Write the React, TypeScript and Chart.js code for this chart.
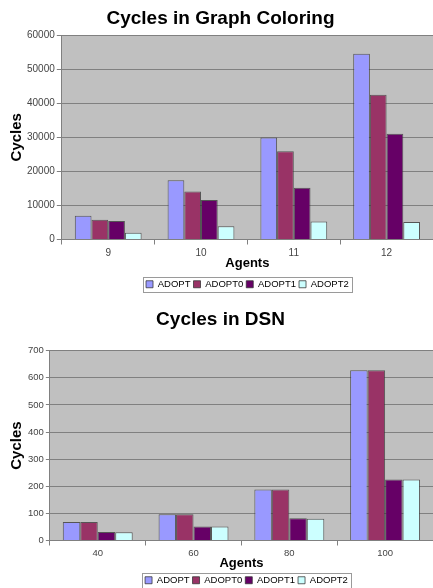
import React, { useEffect, useRef } from "react";
import { Chart, registerables } from "chart.js";
Chart.register(...registerables);

const FONT = "'Liberation Sans', Arial, Helvetica, sans-serif";

const seriesNames = ["ADOPT", "ADOPT0", "ADOPT1", "ADOPT2"];
const seriesColors = ["#9999FF", "#993366", "#660066", "#CCFFFF"];

// Chart 1: Cycles in Graph Coloring
const gcTitle = "Cycles in Graph Coloring";
const gcAgents = ["9", "10", "11", "12"];
const gcAdopt = [7000, 17400, 29900, 54500];
const gcAdopt0 = [5800, 14100, 25900, 42500];
const gcAdopt1 = [5400, 11600, 15200, 31000];
const gcAdopt2 = [2000, 3900, 5300, 5100];
const gcMax = 60000;
const gcStep = 10000;

// Chart 2: Cycles in DSN
const dsnTitle = "Cycles in DSN";
const dsnAgents = ["40", "60", "80", "100"];
const dsnAdopt = [68, 97, 188, 628];
const dsnAdopt0 = [68, 97, 188, 628];
const dsnAdopt1 = [31, 52, 82, 225];
const dsnAdopt2 = [30, 52, 80, 225];
const dsnMax = 700;
const dsnStep = 100;

const xTitle = "Agents";
const yTitle = "Cycles";

const plotBgPlugin = {
  id: "plotBg",
  afterLayout(chart: any, _args: any, pluginOpts: any) {
    const lg = chart.legend;
    const ca = chart.chartArea;
    const shift = (pluginOpts && pluginOpts.legendShift) || 0;
    if (lg && ca) {
      lg.left = ca.left + shift;
      lg.right = ca.right + shift;
      lg.width = ca.right - ca.left;
    }
  },
  beforeDraw(chart: any) {
    const { ctx, chartArea } = chart;
    if (!chartArea) return;
    ctx.save();
    ctx.fillStyle = "#C0C0C0";
    ctx.fillRect(chartArea.left, chartArea.top, chartArea.right - chartArea.left, chartArea.bottom - chartArea.top);
    ctx.restore();
  },
  afterDraw(chart: any) {
    const lg = chart.legend;
    if (!lg || !lg.legendHitBoxes || !lg.legendHitBoxes.length) return;
    const boxes = lg.legendHitBoxes;
    let l = Infinity, r = -Infinity, t = Infinity, b = -Infinity;
    boxes.forEach((h: any) => {
      l = Math.min(l, h.left);
      r = Math.max(r, h.left + h.width);
      t = Math.min(t, h.top);
      b = Math.max(b, h.top + h.height);
    });
    const ctx = chart.ctx;
    ctx.save();
    ctx.strokeStyle = "#9a9a9a";
    ctx.lineWidth = 1;
    ctx.strokeRect(Math.round(l - 3) + 0.5, Math.round(t - 3) + 0.5, Math.round(r - l + 6), Math.round(b - t + 5));
    ctx.restore();
  },
};

function makeConfig(
  title: string,
  labels: string[],
  data: number[][],
  max: number,
  step: number,
  opts: any
) {
  return {
    type: "bar" as const,
    data: {
      labels,
      datasets: seriesNames.map((name, i) => ({
        label: name,
        data: data[i],
        backgroundColor: seriesColors[i],
        borderColor: "rgba(50,50,50,0.75)",
        borderWidth: 1,
        barPercentage: 1,
        categoryPercentage: opts.catPct,
      })),
    },
    options: {
      responsive: false,
      animation: false,
      maintainAspectRatio: false,
      layout: { padding: opts.layoutPadding },
      plugins: {
        plotBg: { legendShift: opts.legendShift },
        tooltip: { enabled: false },
        title: {
          display: true,
          text: title,
          color: "#000",
          font: { family: FONT, size: 19, weight: "bold", lineHeight: 1.2 },
          padding: opts.titlePadding,
        },
        legend: {
          display: true,
          position: "bottom",
          labels: {
            color: "#000",
            boxWidth: 7,
            boxHeight: 7,
            padding: 3,
            font: { family: FONT, size: 9.5 },
          },
        },
      },
      scales: {
        x: {
          grid: {
            display: true,
            drawOnChartArea: false,
            drawTicks: true,
            tickLength: 5,
            color: "#808080",
            offset: true,
          },
          border: { display: true, color: "#808080" },
          ticks: {
            color: "#444",
            padding: opts.xTickPad,
            font: { family: FONT, size: opts.tickSize },
          },
          title: {
            display: true,
            text: xTitle,
            color: "#000",
            font: { family: FONT, size: 13, weight: "bold", lineHeight: 1 },
            padding: opts.xTitlePadding,
          },
        },
        y: {
          min: 0,
          max,
          grid: {
            color: "#808080",
            tickLength: opts.yTickLen,
            drawTicks: true,
          },
          border: { display: true, color: "#808080" },
          ticks: {
            stepSize: step,
            color: "#444",
            padding: 2,
            font: { family: FONT, size: opts.tickSize },
            callback: (v: any) => String(v),
          },
          title: {
            display: true,
            text: yTitle,
            color: "#000",
            font: { family: FONT, size: 15, weight: "bold", lineHeight: 1 },
            padding: opts.yTitlePadding,
          },
        },
      },
    },
    plugins: [plotBgPlugin],
  };
}

function BarChart({ config, width, height, top }: { config: any; width: number; height: number; top: number }) {
  const ref = useRef<HTMLCanvasElement | null>(null);
  useEffect(() => {
    if (!ref.current) return;
    const chart = new Chart(ref.current, config);
    return () => chart.destroy();
  }, [config]);
  return (
    <canvas
      ref={ref}
      width={width}
      height={height}
      style={{ position: "absolute", left: 0, top, display: "block", width, height }}
    />
  );
}

const gcConfig = makeConfig(gcTitle, gcAgents, [gcAdopt, gcAdopt0, gcAdopt1, gcAdopt2], gcMax, gcStep, {
  catPct: 0.72,
  layoutPadding: { left: 8, right: 0, top: 0, bottom: 0 },
  titlePadding: { top: 7.6, bottom: 4.6 },
  xTickPad: 3,
  xTitlePadding: { top: -6, bottom: 7 },
  yTitlePadding: { top: 1, bottom: 1 },
  yTickLen: 5,
  tickSize: 10,
  legendShift: 0,
});

const dsnConfig = makeConfig(dsnTitle, dsnAgents, [dsnAdopt, dsnAdopt0, dsnAdopt1, dsnAdopt2], dsnMax, dsnStep, {
  catPct: 0.73,
  layoutPadding: { left: 8, right: 0, top: 0, bottom: 0 },
  titlePadding: { top: 12.6, bottom: 19.3 },
  xTickPad: 2,
  xTitlePadding: { top: -4.4, bottom: 3 },
  yTitlePadding: { top: 1, bottom: 2 },
  yTickLen: 4,
  tickSize: 9.5,
  legendShift: 5,
});

export default function App() {
  return (
    <div style={{ position: "absolute", left: 0, top: 0, width: 433, height: 588, overflow: "hidden", background: "#fff" }}>
      <BarChart config={gcConfig} width={433} height={299} top={0} />
      <BarChart config={dsnConfig} width={433} height={299} top={296} />
    </div>
  );
}
